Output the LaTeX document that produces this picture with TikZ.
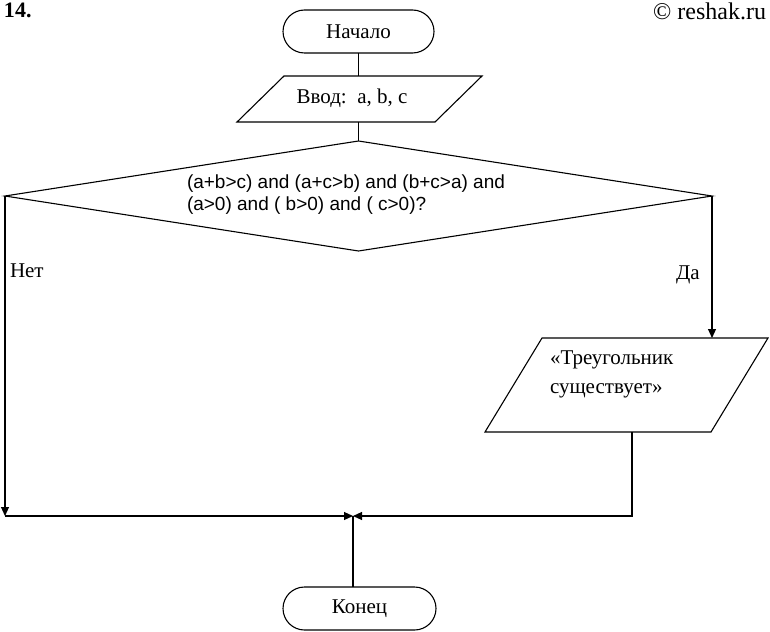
\documentclass[tikz,border=0pt]{standalone}
\usepackage{fontspec}
\setmainfont{Liberation Serif}
\newfontfamily\arialfam{Liberation Sans}
\usetikzlibrary{arrows.meta,calc}
\newcommand\serifbig{\fontsize{21}{27}\selectfont}
\newcommand\sansmid{\arialfam\fontsize{19}{19}\selectfont}
\begin{document}
\begin{tikzpicture}[x=1pt,y=-1pt,
  every node/.style={inner sep=0pt,outer sep=0pt,font=\serifbig},
  ln/.style={line width=1.1pt},
  arr/.style={ln,-{Triangle[length=9pt,width=8pt]}},
  term/.style={draw,ln,rounded corners=21.5pt,minimum height=43pt},
  hold/.style={draw=none}]
\useasboundingbox (0,0) rectangle (770,631);
% header
\node[anchor=base west,font=\bfseries\fontsize{22}{26}\selectfont] (num) at (4,18) {14.};
\node[anchor=base east,font=\fontsize{24}{28}\selectfont] (copy) at (766,20) {© reshak.ru};
% start
\node[term,minimum width=151pt] (start) at (358.5,31.5) {Начало};
% input
\node[hold,minimum width=245pt,minimum height=46pt] (in) at (359.5,99) {};
\draw[ln] (in.south west) -- ($(in.north west)+(47,0)$) -- (in.north east) -- ($(in.south east)+(-47,0)$) -- cycle;
\node[anchor=base] (intext) at (352,103.5) {Ввод:\ \ a, b, c};
% decision
\node[hold,minimum width=707pt,minimum height=110pt] (dec) at (358.5,196) {};
\draw[ln] (dec.north) -- (dec.east) -- (dec.south) -- (dec.west) -- cycle;
\node[anchor=north west,align=left,font=\sansmid] (dectext) at (187,174.5)
  {(a+b>c) and (a+c>b) and (b+c>a) and\\[3pt](a>0) and ( b>0) and ( c>0)?};
% output
\node[hold,minimum width=283pt,minimum height=94pt] (out) at (626.5,385) {};
\draw[ln] (out.south west) -- ($(out.north west)+(57,0)$) -- (out.north east) -- ($(out.south east)+(-57,0)$) -- cycle;
\node[anchor=north west,align=left] (outtext) at (550,351)
  {«Треугольник\\[2pt]существует»};
% end
\node[term,minimum width=153pt] (end) at (359.5,608.5) {Конец};
% labels
\node[anchor=base west] (no) at (10,277) {Нет};
\node[anchor=base west] (yes) at (676,279) {Да};
% coordinates
\coordinate (join) at (353,516);
\coordinate (lc) at (dec.west |- join);
\coordinate (rc) at (632,516);
% connectors
\draw[ln] (start.south) -- (start.south |- in.north);
\draw[ln] (start.south |- in.south) -- (dec.north);
\draw[arr] (dec.west) -- (lc);
\draw[arr] (lc) -- (join);
\draw[arr] (dec.east) -- (dec.east |- out.north);
\draw[arr] (rc |- out.south) -- (rc) -- (join);
\draw[ln] (end.north -| join) -- (join);
\end{tikzpicture}
\end{document}
